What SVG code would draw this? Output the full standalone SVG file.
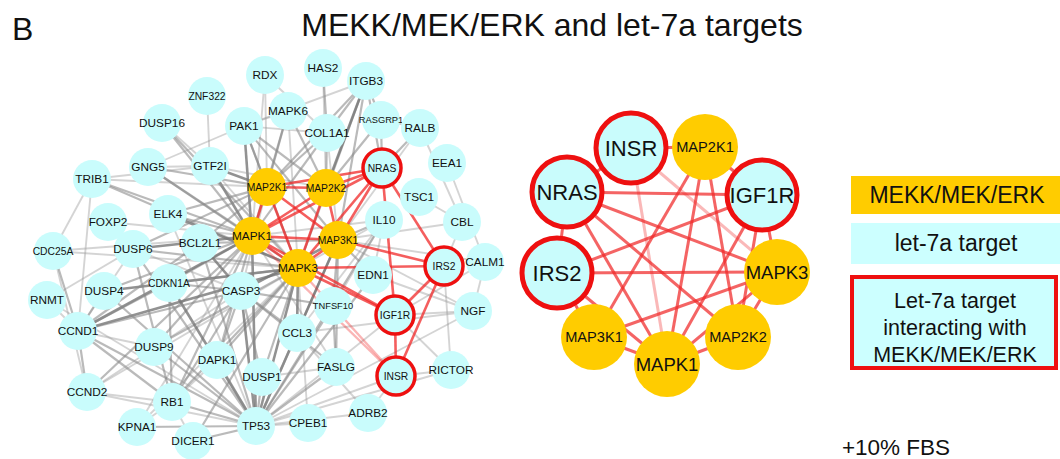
<svg xmlns="http://www.w3.org/2000/svg" width="1060" height="459" viewBox="0 0 1060 459">
<style>
text{font-family:"Liberation Sans",Arial,Helvetica,sans-serif;text-anchor:middle;fill:#111}
.t circle{fill:#c9fcfc}
.k circle{fill:#ffcc00}
.x circle{fill:#c9fcfc;stroke:#ee1010;stroke-width:3.5}
.L text{font-size:11.8px}
.L .s{font-size:10.3px}
.L .xs{font-size:9.3px}
.R .x circle{stroke-width:5}
.R .big{font-size:22px}
.R .mk{font-size:18.5px}
.R .mm{font-size:14.6px}
.a{stroke:#888;stroke-width:2.2;stroke-opacity:.58}
.b{stroke:#777;stroke-width:2.6;stroke-opacity:.8}
.c{stroke:#999;stroke-width:1.9;stroke-opacity:.42}
.r{stroke:#f02828;stroke-width:2.6;stroke-opacity:.75}
.rl{stroke:#f02828;stroke-width:2.4;stroke-opacity:.35}
.rr{stroke:#f02828;stroke-width:3;stroke-opacity:.72}
.rrl{stroke:#f02828;stroke-width:3;stroke-opacity:.33}
.leg{font-size:23px}
.leg2{font-size:21.5px}
</style>
<rect width="1060" height="459" fill="#fff"/>
<text x="12" y="40" style="font-size:32px;text-anchor:start">B</text>
<text x="552" y="36" style="font-size:32px">MEKK/MEK/ERK and let-7a targets</text>
<text x="896" y="455" style="font-size:22.5px">+10% FBS</text>

<g id="connectors-left">
<line class="a" x1="252" y1="236" x2="92" y2="179"/>
<line class="a" x1="252" y1="236" x2="148" y2="167"/>
<line class="b" x1="252" y1="236" x2="210" y2="166"/>
<line class="a" x1="252" y1="236" x2="162" y2="123"/>
<line class="b" x1="252" y1="236" x2="244" y2="126"/>
<line class="a" x1="252" y1="236" x2="168" y2="214"/>
<line class="c" x1="252" y1="236" x2="108" y2="222"/>
<line class="b" x1="252" y1="236" x2="133" y2="249"/>
<line class="a" x1="252" y1="236" x2="104" y2="291"/>
<line class="c" x1="252" y1="236" x2="53" y2="251"/>
<line class="a" x1="252" y1="236" x2="169" y2="283"/>
<line class="b" x1="252" y1="236" x2="78" y2="331"/>
<line class="a" x1="252" y1="236" x2="154" y2="347"/>
<line class="a" x1="252" y1="236" x2="172" y2="402"/>
<line class="b" x1="252" y1="236" x2="256" y2="426"/>
<line class="c" x1="252" y1="236" x2="137" y2="427"/>
<line class="a" x1="252" y1="236" x2="288" y2="111"/>
<line class="c" x1="252" y1="236" x2="265" y2="75"/>
<line class="a" x1="252" y1="236" x2="327" y2="133"/>
<line class="c" x1="252" y1="236" x2="384" y2="220"/>
<line class="a" x1="252" y1="236" x2="87" y2="392"/>
<line class="c" x1="252" y1="236" x2="336" y2="367"/>
<line class="a" x1="252" y1="236" x2="217" y2="360"/>
<line class="a" x1="298" y1="268" x2="148" y2="167"/>
<line class="a" x1="298" y1="268" x2="92" y2="179"/>
<line class="b" x1="298" y1="268" x2="168" y2="214"/>
<line class="a" x1="298" y1="268" x2="133" y2="249"/>
<line class="b" x1="298" y1="268" x2="104" y2="291"/>
<line class="c" x1="298" y1="268" x2="53" y2="251"/>
<line class="a" x1="298" y1="268" x2="169" y2="283"/>
<line class="b" x1="298" y1="268" x2="78" y2="331"/>
<line class="a" x1="298" y1="268" x2="154" y2="347"/>
<line class="a" x1="298" y1="268" x2="217" y2="360"/>
<line class="b" x1="298" y1="268" x2="256" y2="426"/>
<line class="a" x1="298" y1="268" x2="172" y2="402"/>
<line class="a" x1="298" y1="268" x2="262" y2="377"/>
<line class="b" x1="298" y1="268" x2="297" y2="333"/>
<line class="c" x1="298" y1="268" x2="384" y2="220"/>
<line class="a" x1="298" y1="268" x2="244" y2="126"/>
<line class="c" x1="298" y1="268" x2="288" y2="111"/>
<line class="a" x1="298" y1="268" x2="366" y2="81"/>
<line class="c" x1="298" y1="268" x2="87" y2="392"/>
<line class="c" x1="298" y1="268" x2="137" y2="427"/>
<line class="a" x1="298" y1="268" x2="193" y2="441"/>
<line class="c" x1="298" y1="268" x2="308" y2="423"/>
<line class="a" x1="298" y1="268" x2="162" y2="123"/>
<line class="c" x1="298" y1="268" x2="210" y2="166"/>
<line class="a" x1="267" y1="187" x2="244" y2="126"/>
<line class="b" x1="267" y1="187" x2="210" y2="166"/>
<line class="c" x1="267" y1="187" x2="265" y2="75"/>
<line class="a" x1="267" y1="187" x2="327" y2="133"/>
<line class="a" x1="267" y1="187" x2="366" y2="81"/>
<line class="a" x1="267" y1="187" x2="288" y2="111"/>
<line class="a" x1="267" y1="187" x2="200" y2="243"/>
<line class="a" x1="267" y1="187" x2="133" y2="249"/>
<line class="a" x1="267" y1="187" x2="168" y2="214"/>
<line class="c" x1="267" y1="187" x2="92" y2="179"/>
<line class="a" x1="267" y1="187" x2="148" y2="167"/>
<line class="c" x1="267" y1="187" x2="241" y2="291"/>
<line class="a" x1="326" y1="188" x2="244" y2="126"/>
<line class="a" x1="326" y1="188" x2="327" y2="133"/>
<line class="b" x1="326" y1="188" x2="366" y2="81"/>
<line class="c" x1="326" y1="188" x2="323" y2="68"/>
<line class="a" x1="326" y1="188" x2="381" y2="120"/>
<line class="c" x1="326" y1="188" x2="210" y2="166"/>
<line class="a" x1="326" y1="188" x2="288" y2="111"/>
<line class="a" x1="338" y1="240" x2="366" y2="81"/>
<line class="c" x1="338" y1="240" x2="420" y2="128"/>
<line class="c" x1="338" y1="240" x2="462" y2="222"/>
<line class="a" x1="338" y1="240" x2="384" y2="220"/>
<line class="a" x1="338" y1="240" x2="373" y2="275"/>
<line class="a" x1="338" y1="240" x2="333" y2="306"/>
<line class="b" x1="338" y1="240" x2="241" y2="291"/>
<line class="a" x1="338" y1="240" x2="336" y2="367"/>
<line class="a" x1="338" y1="240" x2="297" y2="333"/>
<line class="c" x1="338" y1="240" x2="473" y2="311"/>
<line class="b" x1="338" y1="240" x2="256" y2="426"/>
<line class="c" x1="338" y1="240" x2="485" y2="262"/>
<line class="a" x1="338" y1="240" x2="200" y2="243"/>
<line class="a" x1="338" y1="240" x2="244" y2="126"/>
<line class="c" x1="338" y1="240" x2="327" y2="133"/>
<line class="b" x1="256" y1="426" x2="241" y2="291"/>
<line class="a" x1="256" y1="426" x2="200" y2="243"/>
<line class="b" x1="256" y1="426" x2="169" y2="283"/>
<line class="a" x1="256" y1="426" x2="78" y2="331"/>
<line class="a" x1="256" y1="426" x2="262" y2="377"/>
<line class="a" x1="256" y1="426" x2="172" y2="402"/>
<line class="a" x1="256" y1="426" x2="217" y2="360"/>
<line class="a" x1="256" y1="426" x2="193" y2="441"/>
<line class="a" x1="256" y1="426" x2="137" y2="427"/>
<line class="c" x1="256" y1="426" x2="308" y2="423"/>
<line class="a" x1="256" y1="426" x2="336" y2="367"/>
<line class="a" x1="256" y1="426" x2="297" y2="333"/>
<line class="a" x1="256" y1="426" x2="333" y2="306"/>
<line class="a" x1="256" y1="426" x2="133" y2="249"/>
<line class="a" x1="256" y1="426" x2="104" y2="291"/>
<line class="c" x1="256" y1="426" x2="87" y2="392"/>
<line class="a" x1="256" y1="426" x2="154" y2="347"/>
<line class="c" x1="256" y1="426" x2="47" y2="300"/>
<line class="c" x1="256" y1="426" x2="395" y2="315"/>
<line class="c" x1="256" y1="426" x2="396" y2="376"/>
<line class="a" x1="256" y1="426" x2="373" y2="275"/>
<line class="c" x1="256" y1="426" x2="368" y2="413"/>
<line class="c" x1="256" y1="426" x2="451" y2="370"/>
<line class="c" x1="256" y1="426" x2="473" y2="311"/>
<line class="a" x1="256" y1="426" x2="384" y2="220"/>
<line class="c" x1="256" y1="426" x2="168" y2="214"/>
<line class="a" x1="78" y1="331" x2="169" y2="283"/>
<line class="a" x1="78" y1="331" x2="172" y2="402"/>
<line class="a" x1="78" y1="331" x2="87" y2="392"/>
<line class="a" x1="78" y1="331" x2="53" y2="251"/>
<line class="a" x1="78" y1="331" x2="104" y2="291"/>
<line class="c" x1="78" y1="331" x2="154" y2="347"/>
<line class="a" x1="78" y1="331" x2="241" y2="291"/>
<line class="c" x1="78" y1="331" x2="47" y2="300"/>
<line class="c" x1="78" y1="331" x2="92" y2="179"/>
<line class="c" x1="78" y1="331" x2="133" y2="249"/>
<line class="a" x1="78" y1="331" x2="200" y2="243"/>
<line class="a" x1="172" y1="402" x2="169" y2="283"/>
<line class="c" x1="172" y1="402" x2="87" y2="392"/>
<line class="a" x1="172" y1="402" x2="241" y2="291"/>
<line class="c" x1="172" y1="402" x2="217" y2="360"/>
<line class="c" x1="172" y1="402" x2="137" y2="427"/>
<line class="c" x1="172" y1="402" x2="193" y2="441"/>
<line class="a" x1="172" y1="402" x2="133" y2="249"/>
<line class="b" x1="241" y1="291" x2="200" y2="243"/>
<line class="a" x1="241" y1="291" x2="169" y2="283"/>
<line class="a" x1="241" y1="291" x2="217" y2="360"/>
<line class="a" x1="241" y1="291" x2="336" y2="367"/>
<line class="a" x1="241" y1="291" x2="333" y2="306"/>
<line class="a" x1="241" y1="291" x2="297" y2="333"/>
<line class="a" x1="241" y1="291" x2="262" y2="377"/>
<line class="c" x1="241" y1="291" x2="133" y2="249"/>
<line class="c" x1="241" y1="291" x2="87" y2="392"/>
<line class="a" x1="366" y1="81" x2="327" y2="133"/>
<line class="a" x1="366" y1="81" x2="381" y2="120"/>
<line class="c" x1="366" y1="81" x2="244" y2="126"/>
<line class="a" x1="323" y1="68" x2="327" y2="133"/>
<line class="c" x1="420" y1="128" x2="381" y2="120"/>
<line class="c" x1="420" y1="128" x2="462" y2="222"/>
<line class="a" x1="420" y1="128" x2="382" y2="168"/>
<line class="c" x1="447" y1="163" x2="485" y2="262"/>
<line class="c" x1="462" y1="222" x2="444" y2="266"/>
<line class="c" x1="462" y1="222" x2="419" y2="197"/>
<line class="c" x1="485" y1="262" x2="473" y2="311"/>
<line class="c" x1="473" y1="311" x2="395" y2="315"/>
<line class="c" x1="473" y1="311" x2="373" y2="275"/>
<line class="c" x1="473" y1="311" x2="297" y2="333"/>
<line class="c" x1="451" y1="370" x2="444" y2="266"/>
<line class="c" x1="451" y1="370" x2="395" y2="315"/>
<line class="c" x1="451" y1="370" x2="396" y2="376"/>
<line class="c" x1="368" y1="413" x2="396" y2="376"/>
<line class="c" x1="368" y1="413" x2="297" y2="333"/>
<line class="a" x1="336" y1="367" x2="333" y2="306"/>
<line class="c" x1="336" y1="367" x2="262" y2="377"/>
<line class="c" x1="384" y1="220" x2="297" y2="333"/>
<line class="c" x1="384" y1="220" x2="333" y2="306"/>
<line class="c" x1="384" y1="220" x2="373" y2="275"/>
<line class="c" x1="162" y1="123" x2="210" y2="166"/>
<line class="c" x1="207" y1="96" x2="210" y2="166"/>
<line class="c" x1="148" y1="167" x2="210" y2="166"/>
<line class="c" x1="148" y1="167" x2="244" y2="126"/>
<line class="c" x1="92" y1="179" x2="210" y2="166"/>
<line class="c" x1="92" y1="179" x2="53" y2="251"/>
<line class="c" x1="53" y1="251" x2="87" y2="392"/>
<line class="c" x1="47" y1="300" x2="133" y2="249"/>
<line class="c" x1="485" y1="262" x2="395" y2="315"/>
<line class="a" x1="381" y1="120" x2="382" y2="168"/>
<line class="a" x1="366" y1="81" x2="382" y2="168"/>
<line class="c" x1="265" y1="75" x2="327" y2="133"/>
<line class="c" x1="244" y1="126" x2="327" y2="133"/>
<line class="c" x1="288" y1="111" x2="244" y2="126"/>
<line class="r" x1="382" y1="168" x2="267" y2="187"/>
<line class="r" x1="382" y1="168" x2="326" y2="188"/>
<line class="r" x1="382" y1="168" x2="252" y2="236"/>
<line class="r" x1="382" y1="168" x2="338" y2="240"/>
<line class="r" x1="382" y1="168" x2="298" y2="268"/>
<line class="r" x1="382" y1="168" x2="395" y2="315"/>
<line class="r" x1="382" y1="168" x2="444" y2="266"/>
<line class="r" x1="267" y1="187" x2="326" y2="188"/>
<line class="r" x1="267" y1="187" x2="252" y2="236"/>
<line class="r" x1="267" y1="187" x2="298" y2="268"/>
<line class="r" x1="267" y1="187" x2="338" y2="240"/>
<line class="r" x1="326" y1="188" x2="252" y2="236"/>
<line class="r" x1="326" y1="188" x2="338" y2="240"/>
<line class="r" x1="326" y1="188" x2="298" y2="268"/>
<line class="r" x1="252" y1="236" x2="338" y2="240"/>
<line class="r" x1="252" y1="236" x2="298" y2="268"/>
<line class="r" x1="338" y1="240" x2="298" y2="268"/>
<line class="r" x1="298" y1="268" x2="395" y2="315"/>
<line class="r" x1="252" y1="236" x2="395" y2="315"/>
<line class="r" x1="338" y1="240" x2="444" y2="266"/>
<line class="r" x1="298" y1="268" x2="444" y2="266"/>
<line class="r" x1="395" y1="315" x2="444" y2="266"/>
<line class="r" x1="395" y1="315" x2="396" y2="376"/>
<line class="r" x1="444" y1="266" x2="396" y2="376"/>
<line class="rl" x1="298" y1="268" x2="396" y2="376"/>
<line class="rl" x1="252" y1="236" x2="396" y2="376"/>
</g>

<g id="connectors-right">
<line class="rr" x1="567" y1="192" x2="631" y2="148"/>
<line class="rr" x1="631" y1="148" x2="705" y2="147"/>
<line class="rr" x1="705" y1="147" x2="762" y2="195"/>
<line class="rr" x1="762" y1="195" x2="777" y2="272"/>
<line class="rr" x1="777" y1="272" x2="738" y2="337"/>
<line class="rr" x1="738" y1="337" x2="667" y2="364"/>
<line class="rr" x1="667" y1="364" x2="594" y2="337"/>
<line class="rr" x1="594" y1="337" x2="557" y2="273"/>
<line class="rr" x1="557" y1="273" x2="567" y2="192"/>
<line class="rr" x1="567" y1="192" x2="762" y2="195"/>
<line class="rr" x1="557" y1="273" x2="777" y2="272"/>
<line class="rr" x1="567" y1="192" x2="777" y2="272"/>
<line class="rr" x1="567" y1="192" x2="738" y2="337"/>
<line class="rr" x1="567" y1="192" x2="667" y2="364"/>
<line class="rr" x1="557" y1="273" x2="762" y2="195"/>
<line class="rr" x1="594" y1="337" x2="705" y2="147"/>
<line class="rr" x1="667" y1="364" x2="705" y2="147"/>
<line class="rr" x1="738" y1="337" x2="705" y2="147"/>
<line class="rrl" x1="631" y1="148" x2="667" y2="364"/>
<line class="rrl" x1="631" y1="148" x2="777" y2="272"/>
<line class="rr" x1="762" y1="195" x2="667" y2="364"/>
<line class="rr" x1="594" y1="337" x2="777" y2="272"/>
<line class="rr" x1="667" y1="364" x2="777" y2="272"/>
<line class="rr" x1="762" y1="195" x2="738" y2="337"/>
<line class="rr" x1="557" y1="273" x2="667" y2="364"/>
</g>

<g class="L">
<g id="n-RDX" class="t"><circle cx="265" cy="75" r="19"/><text x="265" y="79">RDX</text></g>
<g id="n-HAS2" class="t"><circle cx="323" cy="68" r="19"/><text x="323" y="72">HAS2</text></g>
<g id="n-ITGB3" class="t"><circle cx="366" cy="81" r="19"/><text x="366" y="85">ITGB3</text></g>
<g id="n-ZNF322" class="t"><circle cx="207" cy="96" r="19"/><text class="s" x="207" y="100">ZNF322</text></g>
<g id="n-MAPK6" class="t"><circle cx="288" cy="111" r="19"/><text x="288" y="115">MAPK6</text></g>
<g id="n-RASGRP1" class="t"><circle cx="381" cy="120" r="19"/><text class="xs" x="381" y="123">RASGRP1</text></g>
<g id="n-RALB" class="t"><circle cx="420" cy="128" r="19"/><text x="420" y="132">RALB</text></g>
<g id="n-DUSP16" class="t"><circle cx="162" cy="123" r="19"/><text x="162" y="127">DUSP16</text></g>
<g id="n-PAK1" class="t"><circle cx="244" cy="126" r="19"/><text x="244" y="130">PAK1</text></g>
<g id="n-COL1A1" class="t"><circle cx="327" cy="133" r="19"/><text x="327" y="137">COL1A1</text></g>
<g id="n-EEA1" class="t"><circle cx="447" cy="163" r="19"/><text x="447" y="167">EEA1</text></g>
<g id="n-GNG5" class="t"><circle cx="148" cy="167" r="19"/><text x="148" y="171">GNG5</text></g>
<g id="n-GTF2I" class="t"><circle cx="210" cy="166" r="19"/><text x="210" y="170">GTF2I</text></g>
<g id="n-TRIB1" class="t"><circle cx="92" cy="179" r="19"/><text x="92" y="183">TRIB1</text></g>
<g id="n-TSC1" class="t"><circle cx="419" cy="197" r="19"/><text x="419" y="201">TSC1</text></g>
<g id="n-IL10" class="t"><circle cx="384" cy="220" r="19"/><text x="384" y="224">IL10</text></g>
<g id="n-CBL" class="t"><circle cx="462" cy="222" r="19"/><text x="462" y="226">CBL</text></g>
<g id="n-FOXP2" class="t"><circle cx="108" cy="222" r="19"/><text x="108" y="226">FOXP2</text></g>
<g id="n-ELK4" class="t"><circle cx="168" cy="214" r="19"/><text x="168" y="218">ELK4</text></g>
<g id="n-BCL2L1" class="t"><circle cx="200" cy="243" r="19"/><text x="200" y="247">BCL2L1</text></g>
<g id="n-CDC25A" class="t"><circle cx="53" cy="251" r="19"/><text class="s" x="53" y="255">CDC25A</text></g>
<g id="n-DUSP6" class="t"><circle cx="133" cy="249" r="19"/><text x="133" y="253">DUSP6</text></g>
<g id="n-CALM1" class="t"><circle cx="485" cy="262" r="19"/><text x="485" y="266">CALM1</text></g>
<g id="n-EDN1" class="t"><circle cx="373" cy="275" r="19"/><text x="373" y="279">EDN1</text></g>
<g id="n-CDKN1A" class="t"><circle cx="169" cy="283" r="19"/><text class="s" x="169" y="287">CDKN1A</text></g>
<g id="n-DUSP4" class="t"><circle cx="104" cy="291" r="19"/><text x="104" y="295">DUSP4</text></g>
<g id="n-CASP3" class="t"><circle cx="241" cy="291" r="19"/><text x="241" y="295">CASP3</text></g>
<g id="n-RNMT" class="t"><circle cx="47" cy="300" r="19"/><text x="47" y="304">RNMT</text></g>
<g id="n-TNFSF10" class="t"><circle cx="333" cy="306" r="19"/><text class="xs" x="333" y="309">TNFSF10</text></g>
<g id="n-NGF" class="t"><circle cx="473" cy="311" r="19"/><text x="473" y="315">NGF</text></g>
<g id="n-CCND1" class="t"><circle cx="78" cy="331" r="19"/><text x="78" y="335">CCND1</text></g>
<g id="n-CCL3" class="t"><circle cx="297" cy="333" r="19"/><text x="297" y="337">CCL3</text></g>
<g id="n-DUSP9" class="t"><circle cx="154" cy="347" r="19"/><text x="154" y="351">DUSP9</text></g>
<g id="n-DAPK1" class="t"><circle cx="217" cy="360" r="19"/><text x="217" y="364">DAPK1</text></g>
<g id="n-DUSP1" class="t"><circle cx="262" cy="377" r="19"/><text x="262" y="381">DUSP1</text></g>
<g id="n-FASLG" class="t"><circle cx="336" cy="367" r="19"/><text x="336" y="371">FASLG</text></g>
<g id="n-RICTOR" class="t"><circle cx="451" cy="370" r="19"/><text x="451" y="374">RICTOR</text></g>
<g id="n-CCND2" class="t"><circle cx="87" cy="392" r="19"/><text x="87" y="396">CCND2</text></g>
<g id="n-RB1" class="t"><circle cx="172" cy="402" r="19"/><text x="172" y="406">RB1</text></g>
<g id="n-ADRB2" class="t"><circle cx="368" cy="413" r="19"/><text x="368" y="417">ADRB2</text></g>
<g id="n-CPEB1" class="t"><circle cx="308" cy="423" r="19"/><text x="308" y="427">CPEB1</text></g>
<g id="n-KPNA1" class="t"><circle cx="137" cy="427" r="19"/><text x="137" y="431">KPNA1</text></g>
<g id="n-TP53" class="t"><circle cx="256" cy="426" r="19"/><text x="256" y="430">TP53</text></g>
<g id="n-DICER1" class="t"><circle cx="193" cy="441" r="19"/><text x="193" y="445">DICER1</text></g>
<g id="n-MAP2K1" class="k"><circle cx="267" cy="187" r="19"/><text class="s" x="267" y="191">MAP2K1</text></g>
<g id="n-MAP2K2" class="k"><circle cx="326" cy="188" r="19"/><text class="s" x="326" y="192">MAP2K2</text></g>
<g id="n-MAPK1" class="k"><circle cx="252" cy="236" r="19"/><text x="252" y="240">MAPK1</text></g>
<g id="n-MAP3K1" class="k"><circle cx="338" cy="240" r="19"/><text class="s" x="338" y="244">MAP3K1</text></g>
<g id="n-MAPK3" class="k"><circle cx="298" cy="268" r="19"/><text x="298" y="272">MAPK3</text></g>
<g id="n-NRAS" class="x"><circle cx="382" cy="168" r="19"/><text class="s" x="382" y="172">NRAS</text></g>
<g id="n-IRS2" class="x"><circle cx="444" cy="266" r="19"/><text class="s" x="444" y="270">IRS2</text></g>
<g id="n-IGF1R" class="x"><circle cx="395" cy="315" r="19"/><text class="s" x="395" y="319">IGF1R</text></g>
<g id="n-INSR" class="x"><circle cx="396" cy="376" r="19"/><text class="s" x="396" y="380">INSR</text></g>
</g>

<g class="R">
<g id="r-INSR" class="x"><circle cx="631" cy="148" r="35"/><text class="big" x="631" y="156">INSR</text></g>
<g id="r-MAP2K1" class="k"><circle cx="705" cy="147" r="33"/><text class="mm" x="705" y="152">MAP2K1</text></g>
<g id="r-IGF1R" class="x"><circle cx="762" cy="195" r="35"/><text class="big" x="762" y="203">IGF1R</text></g>
<g id="r-MAPK3" class="k"><circle cx="777" cy="272" r="33"/><text class="mk" x="777" y="279">MAPK3</text></g>
<g id="r-MAP2K2" class="k"><circle cx="738" cy="337" r="33"/><text class="mm" x="738" y="342">MAP2K2</text></g>
<g id="r-MAPK1" class="k"><circle cx="667" cy="364" r="33"/><text class="mk" x="667" y="371">MAPK1</text></g>
<g id="r-MAP3K1" class="k"><circle cx="594" cy="337" r="33"/><text class="mm" x="594" y="342">MAP3K1</text></g>
<g id="r-IRS2" class="x"><circle cx="557" cy="273" r="35"/><text class="big" x="557" y="281">IRS2</text></g>
<g id="r-NRAS" class="x"><circle cx="567" cy="192" r="35"/><text class="big" x="567" y="200">NRAS</text></g>
</g>

<g id="legend">
<rect x="851" y="176" width="209" height="38" fill="#ffcc00"/>
<text class="leg" x="957" y="203">MEKK/MEK/ERK</text>
<rect x="851" y="223" width="209" height="41" fill="#ccffff"/>
<text class="leg" x="956" y="251">let-7a target</text>
<rect x="852" y="277" width="204" height="91" fill="#ccffff" stroke="#ee1010" stroke-width="4"/>
<text class="leg2" x="955" y="308">Let-7a target</text>
<text class="leg2" x="955" y="335">interacting with</text>
<text class="leg2" x="955" y="362">MEKK/MEK/ERK</text>
</g>
</svg>
